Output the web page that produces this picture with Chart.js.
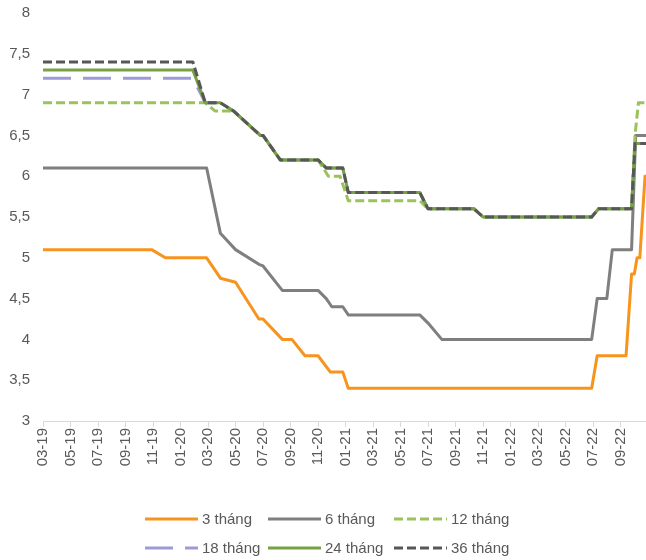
<!DOCTYPE html>
<html lang="vi">
<head>
<meta charset="utf-8">
<title>Lãi suất huy động theo kỳ hạn</title>
<script src="https://cdn.jsdelivr.net/npm/chart.js@4/dist/chart.umd.min.js"></script>
<style>
  html, body { margin: 0; padding: 0; background: #ffffff; }
  #wrap { width: 646px; height: 560px; }
</style>
</head>
<body>
<div id="wrap"><canvas id="chart" width="646" height="560"></canvas></div>
<script>
// Month labels on the horizontal axis (every second month, starting 03-19)
const tickLabels = ['03-19','05-19','07-19','09-19','11-19','01-20','03-20','05-20','07-20','09-20','11-20',
                    '01-21','03-21','05-21','07-21','09-21','11-21','01-22','03-22','05-22','07-22','09-22'];

const seriesNames = ['3 tháng', '6 tháng', '12 tháng', '18 tháng', '24 tháng', '36 tháng'];

// Deposit rates (%) as [months since 03-19, rate]
const rate3m = [[0,5.1],[7.9,5.1],[8.9,5.0],[11.9,5.0],[12.9,4.75],[14.0,4.7],[15.7,4.25],[16.0,4.25],
  [17.4,4.0],[18.1,4.0],[19.05,3.8],[20.0,3.8],[20.9,3.6],[21.8,3.6],[22.2,3.4],[39.9,3.4],[40.3,3.8],
  [42.4,3.8],[42.8,4.8],[43.0,4.8],[43.2,5.0],[43.4,5.0],[43.78,6.0],[43.85,6.0]];
const rate6m = [[0,6.1],[11.9,6.1],[12.9,5.3],[14.0,5.1],[15.7,4.92],[16.0,4.9],[17.4,4.6],[20.0,4.6],
  [20.6,4.5],[21.0,4.4],[21.8,4.4],[22.2,4.3],[27.4,4.3],[28.0,4.2],[29.0,4.0],[39.9,4.0],[40.3,4.5],
  [41.0,4.5],[41.4,5.1],[42.8,5.1],[43.1,6.5],[43.85,6.5]];
const rate12m = [[0,6.9],[11.8,6.9],[12.5,6.8],[13.85,6.8],[15.8,6.5],[16.0,6.5],[17.25,6.2],[20.0,6.2],
  [20.75,6.0],[21.6,6.0],[22.2,5.7],[27.4,5.7],[28.0,5.6],[31.35,5.6],[32.0,5.5],[39.9,5.5],[40.4,5.6],
  [42.8,5.6],[43.05,6.5],[43.3,6.9],[43.85,6.9]];
const rate18m = [[0,7.2],[10.9,7.2],[11.8,6.9],[12.9,6.9],[13.85,6.8],[15.8,6.5],[16.0,6.5],[17.25,6.2],
  [20.0,6.2],[20.6,6.1],[21.8,6.1],[22.2,5.8],[27.4,5.8],[28.0,5.6],[31.35,5.6],[32.0,5.5],[39.9,5.5],
  [40.4,5.6],[42.8,5.6],[43.05,6.4],[43.85,6.4]];
const rate24m = [[0,7.3],[10.9,7.3],[11.8,6.9],[12.9,6.9],[13.85,6.8],[15.8,6.5],[16.0,6.5],[17.25,6.2],
  [20.0,6.2],[20.6,6.1],[21.8,6.1],[22.2,5.8],[27.4,5.8],[28.0,5.6],[31.35,5.6],[32.0,5.5],[39.9,5.5],
  [40.4,5.6],[42.8,5.6],[43.05,6.4],[43.85,6.4]];
const rate36m = [[0,7.4],[10.9,7.4],[11.8,6.9],[12.9,6.9],[13.85,6.8],[15.8,6.5],[16.0,6.5],[17.25,6.2],
  [20.0,6.2],[20.6,6.1],[21.8,6.1],[22.2,5.8],[27.4,5.8],[28.0,5.6],[31.35,5.6],[32.0,5.5],[39.9,5.5],
  [40.4,5.6],[42.8,5.6],[43.05,6.4],[43.85,6.4]];

const allRates = [rate3m, rate6m, rate12m, rate18m, rate24m, rate36m];

const styles = [
  { color: '#F7941D', dash: [] },
  { color: '#7F7F7F', dash: [] },
  { color: '#9BC25B', dash: [9, 4] },
  { color: '#9B9BD7', dash: [28, 12] },
  { color: '#77A244', dash: [] },
  { color: '#575757', dash: [9, 4] }
];

const FONT = "'Liberation Sans', Arial, Helvetica, sans-serif";
const TEXT = '#595959';

const datasets = allRates.map((rows, i) => ({
  label: seriesNames[i],
  data: rows.map(([m, v]) => ({ x: m, y: v })),
  borderColor: styles[i].color,
  backgroundColor: styles[i].color,
  borderDash: styles[i].dash,
  borderWidth: 3,
  borderJoinStyle: 'round',
  pointRadius: 0,
  tension: 0,
  fill: false,
  // later series sit on top of earlier ones
  order: allRates.length - i
}));

// Two-row legend drawn under the axis labels
const legendRows = { id: 'legendRows', afterDraw(chart) {
  const ctx = chart.ctx;
  const colX = [145, 268, 394];
  const rowY = [519, 548];
  const lineLen = 53;
  chart.data.datasets.forEach((ds, i) => {
    const x = colX[i % 3];
    const y = rowY[Math.floor(i / 3)];
    ctx.save();
    ctx.strokeStyle = ds.borderColor;
    ctx.lineWidth = ds.borderWidth;
    ctx.setLineDash(ds.borderDash || []);
    ctx.beginPath();
    ctx.moveTo(x, y);
    ctx.lineTo(x + lineLen, y);
    ctx.stroke();
    ctx.setLineDash([]);
    ctx.fillStyle = TEXT;
    ctx.font = '15px ' + FONT;
    ctx.textBaseline = 'middle';
    ctx.textAlign = 'left';
    ctx.fillText(ds.label, x + lineLen + 4, y + 1);
    ctx.restore();
  });
}};

new Chart(document.getElementById('chart'), {
  type: 'line',
  data: { datasets },
  options: {
    responsive: false,
    animation: false,
    layout: { padding: { top: 13, right: 0, bottom: 0, left: 0 } },
    plugins: { legend: { display: false }, tooltip: { enabled: false } },
    scales: {
      x: {
        type: 'linear',
        min: 0,
        max: 43.85,
        afterFit(scale) { scale.height = 139; },
        border: { display: true, color: '#D9D9D9', width: 1 },
        grid: { display: true, drawOnChartArea: false, drawTicks: true, tickLength: 6, color: '#D9D9D9' },
        ticks: {
          stepSize: 2,
          includeBounds: false,
          autoSkip: false,
          minRotation: 90,
          maxRotation: 90,
          padding: 1,
          color: TEXT,
          font: { family: FONT, size: 15 },
          callback: (v) => tickLabels[Math.round(v / 2)] ?? ''
        }
      },
      y: {
        min: 3,
        max: 8,
        afterFit(scale) {
          scale.width = 43;
          scale.paddingTop = 0;
          scale.paddingBottom = 0;
        },
        border: { display: false },
        grid: { display: false, drawTicks: false },
        ticks: {
          stepSize: 0.5,
          padding: 13,
          color: TEXT,
          font: { family: FONT, size: 15 },
          callback: (v) => String(v).replace('.', ',')
        }
      }
    }
  },
  plugins: [legendRows]
});
</script>
</body>
</html>
